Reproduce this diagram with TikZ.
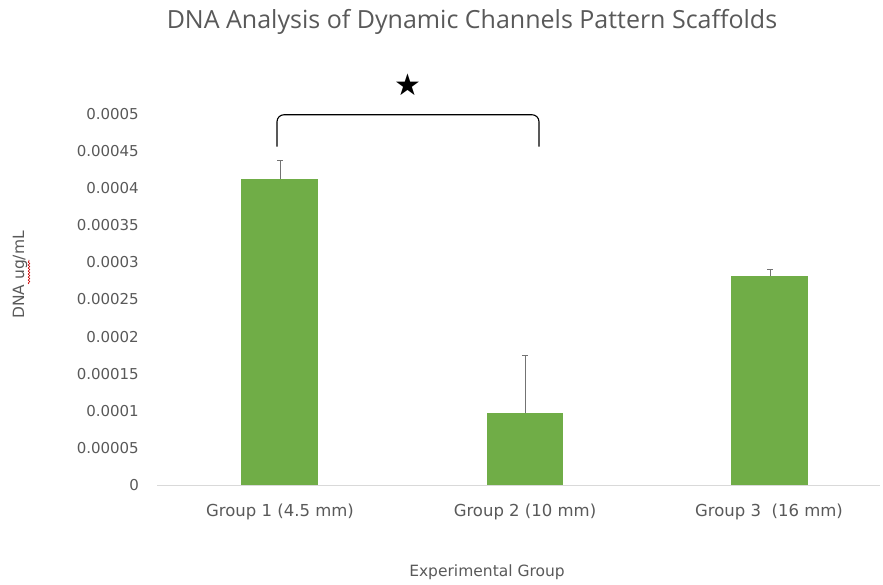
\documentclass[tikz,border=0pt]{standalone}
\usepackage{fontspec}
\setmainfont{Open Sans}
\newfontfamily\lblfont{DejaVu Sans}
\usetikzlibrary{decorations.pathmorphing}
\definecolor{bargreen}{RGB}{112,173,71}
\definecolor{txtgray}{RGB}{89,89,89}
\definecolor{axgray}{RGB}{217,217,217}
\begin{document}
\begin{tikzpicture}[x=1pt,y=1pt,
        ticklbl/.style={anchor=east,text=txtgray,font=\lblfont\fontsize{15}{17}\selectfont,inner sep=0pt},
        grplbl/.style={text=txtgray,font=\lblfont\fontsize{16.5}{19}\selectfont},
        errbar/.style={draw=black!55,line width=0.9pt},
        bracket/.style={draw=black,line width=1.1pt,rounded corners=7pt}]
    \useasboundingbox (0,0) rectangle (883,584);
    % title and axis titles
    \node[text=txtgray,font=\fontsize{25}{28}\selectfont] (title) at (472,562)
        {DNA Analysis of Dynamic Channels Pattern Scaffolds};
    \node[text=txtgray,font=\lblfont\fontsize{15.5}{18}\selectfont] (xtitle) at (487,12) {Experimental Group};
    \node[text=txtgray,font=\lblfont\fontsize{15.5}{18}\selectfont,rotate=90] (ytitle) at (20,309) {DNA ug/mL};
    \draw[red!80!black,line width=0.6pt,decorate,decoration={snake,amplitude=0.8pt,segment length=3pt}]
        (29,300) -- (29,324);
    % axis line
    \draw[axgray,line width=1pt] (157,99) -- (880,99);
    % data in units of 0.00001
    \begin{scope}[shift={(0,99)},y=7.42pt]
        \foreach \v/\t in {0/0,5/0.00005,10/0.0001,15/0.00015,20/0.0002,25/0.00025,
                           30/0.0003,35/0.00035,40/0.0004,45/0.00045,50/0.0005}
            \node[ticklbl] (tick\v) at (139,\v) {\t};
        \fill[bargreen] (241,0) rectangle (318,41.2);
        \fill[bargreen] (487,0) rectangle (563,9.7);
        \fill[bargreen] (731,0) rectangle (808,28.2);
        \coordinate (top1) at (280,41.2);
        \coordinate (top2) at (525,9.7);
        \coordinate (top3) at (770,28.2);
        \coordinate (err1) at (280,43.7);
        \coordinate (err2) at (525,17.5);
        \coordinate (err3) at (770,29.0);
        \foreach \i in {1,2,3} {
            \draw[errbar] (top\i) -- (err\i);
            \draw[errbar] ([xshift=-3pt]err\i) -- ([xshift=3pt]err\i);
        }
        % significance bracket
        \coordinate (brl) at (277,45.6);
        \coordinate (brr) at (539,45.6);
        \draw[bracket] (brl) -- (277,49.9) -- (539,49.9) -- (brr);
        \node[font=\fontsize{30}{30}\selectfont\lblfont] (star) at (408,54) {★};
    \end{scope}
    % group labels
    \node[grplbl] (grp1) at (280,72) {Group 1 (4.5 mm)};
    \node[grplbl] (grp2) at (525,72) {Group 2 (10 mm)};
    \node[grplbl] (grp3) at (769,72) {Group 3~ (16 mm)};
\end{tikzpicture}
\end{document}
